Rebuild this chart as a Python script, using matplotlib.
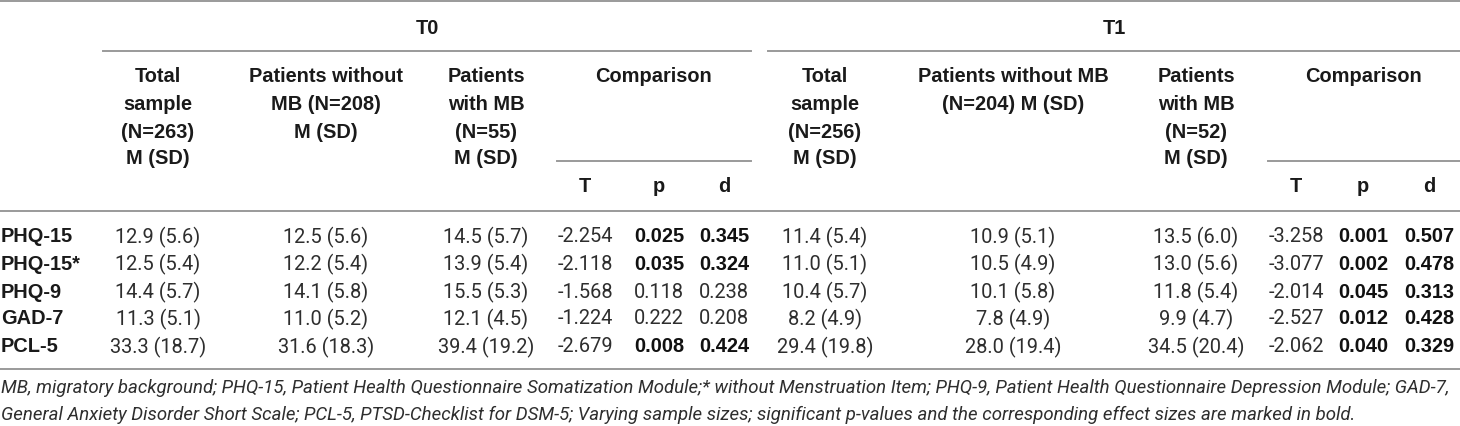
import matplotlib
matplotlib.use("Agg")
import matplotlib.pyplot as plt

plt.rcParams.update({
    "font.family": ["Liberation Sans", "DejaVu Sans"],
})

# table content
measures = ["PHQ-15", "PHQ-15*", "PHQ-9", "GAD-7", "PCL-5"]

t0_total_m = [12.9, 12.5, 14.4, 11.3, 33.3]
t0_total_sd = [5.6, 5.4, 5.7, 5.1, 18.7]
t0_nomb_m = [12.5, 12.2, 14.1, 11.0, 31.6]
t0_nomb_sd = [5.6, 5.4, 5.8, 5.2, 18.3]
t0_mb_m = [14.5, 13.9, 15.5, 12.1, 39.4]
t0_mb_sd = [5.7, 5.4, 5.3, 4.5, 19.2]
t0_T = [-2.254, -2.118, -1.568, -1.224, -2.679]
t0_p = [0.025, 0.035, 0.118, 0.222, 0.008]
t0_d = [0.345, 0.324, 0.238, 0.208, 0.424]

t1_total_m = [11.4, 11.0, 10.4, 8.2, 29.4]
t1_total_sd = [5.4, 5.1, 5.7, 4.9, 19.8]
t1_nomb_m = [10.9, 10.5, 10.1, 7.8, 28.0]
t1_nomb_sd = [5.1, 4.9, 5.8, 4.9, 19.4]
t1_mb_m = [13.5, 13.0, 11.8, 9.9, 34.5]
t1_mb_sd = [6.0, 5.6, 5.4, 4.7, 20.4]
t1_T = [-3.258, -3.077, -2.014, -2.527, -2.062]
t1_p = [0.001, 0.002, 0.045, 0.012, 0.040]
t1_d = [0.507, 0.478, 0.313, 0.428, 0.329]

t0_headers = [
    ["Total", "sample", "(N=263)", "M (SD)"],
    ["Patients without", "MB (N=208)", "M (SD)"],
    ["Patients", "with MB", "(N=55)", "M (SD)"],
]
t1_headers = [
    ["Total", "sample", "(N=256)", "M (SD)"],
    ["Patients without MB", "(N=204) M (SD)"],
    ["Patients", "with MB", "(N=52)", "M (SD)"],
]
sub_headers = ["T", "p", "d"]

footnote = [
    "MB, migratory background; PHQ-15, Patient Health Questionnaire Somatization Module;* without "
    "Menstruation Item; PHQ-9, Patient Health Questionnaire Depression Module; GAD-7,",
    "General Anxiety Disorder Short Scale; PCL-5, PTSD-Checklist for DSM-5; Varying sample sizes; "
    "significant p-values and the corresponding effect sizes are marked in bold.",
]

W, H = 1460, 426
fig = plt.figure(figsize=(W / 100, H / 100), dpi=100)
ax = fig.add_axes([0, 0, 1, 1])
ax.set_xlim(0, W)
ax.set_ylim(H, 0)
ax.axis("off")

rule = dict(color="#9a9a9a", lw=1.4)
hdr = dict(fontsize=14.4, fontweight="bold", color="#1a1a1a", ha="center", va="center")
data_font = ["Roboto", "Liberation Sans"]
val = dict(fontsize=14.4, color="#2e2e2e", ha="center", va="center",
           family=data_font, fontweight="normal")
bold_val = dict(fontsize=14.4, color="#111111", ha="center", va="center", fontweight="bold")

# horizontal rules
ax.plot([0, W], [1, 1], **rule)
ax.plot([103, 751], [51, 51], **rule)
ax.plot([768, W], [51, 51], **rule)
ax.plot([557, 751], [161, 161], **rule)
ax.plot([1268, W], [161, 161], **rule)
ax.plot([0, W], [211, 211], **rule)
ax.plot([0, W], [369, 369], **rule)

header_y = [77, 104, 132, 159]
row_y = [237, 264, 292, 319, 347]


def draw_block(title, title_x, col_x, headers, comp_x, sub_x, cols, T, p, d):
    ax.text(title_x, 28, title, **hdr)
    for x, lines in zip(col_x, headers):
        for y, line in zip(header_y, lines):
            ax.text(x, y, line, **hdr)
    ax.text(comp_x, 77, "Comparison", **hdr)
    for x, s in zip(sub_x, sub_headers):
        ax.text(x, 187, s, **hdr)
    for x, (m, sd) in zip(col_x, cols):
        for y, mi, si in zip(row_y, m, sd):
            ax.text(x, y, f"{mi:.1f} ({si:.1f})", **val)
    for i, y in enumerate(row_y):
        style = bold_val if p[i] < 0.05 else val
        ax.text(sub_x[0], y, f"{T[i]:.3f}", **val)
        ax.text(sub_x[1], y, f"{p[i]:.3f}", **style)
        ax.text(sub_x[2], y, f"{d[i]:.3f}", **style)


for y, name in zip(row_y, measures):
    ax.text(1, y, name, fontsize=14.4, fontweight="bold", color="#1a1a1a", ha="left", va="center")

draw_block("T0", 427, [158, 326, 486], t0_headers, 653, [585, 659, 724],
           [(t0_total_m, t0_total_sd), (t0_nomb_m, t0_nomb_sd), (t0_mb_m, t0_mb_sd)],
           t0_T, t0_p, t0_d)
draw_block("T1", 1114, [825, 1013, 1196], t1_headers, 1363, [1296, 1363, 1429],
           [(t1_total_m, t1_total_sd), (t1_nomb_m, t1_nomb_sd), (t1_mb_m, t1_mb_sd)],
           t1_T, t1_p, t1_d)

# footnote sized so its first line runs across the table width
notes = []
for y, line in zip([388, 415], footnote):
    notes.append(ax.text(1, y, line, fontsize=12.6, style="italic", family=data_font,
                         color="#2e2e2e", ha="left", va="center"))
renderer = fig.canvas.get_renderer()
width = notes[0].get_window_extent(renderer).width
for t in notes:
    t.set_fontsize(12.6 * 1452 / width)

fig.savefig("out.png", dpi=100)
